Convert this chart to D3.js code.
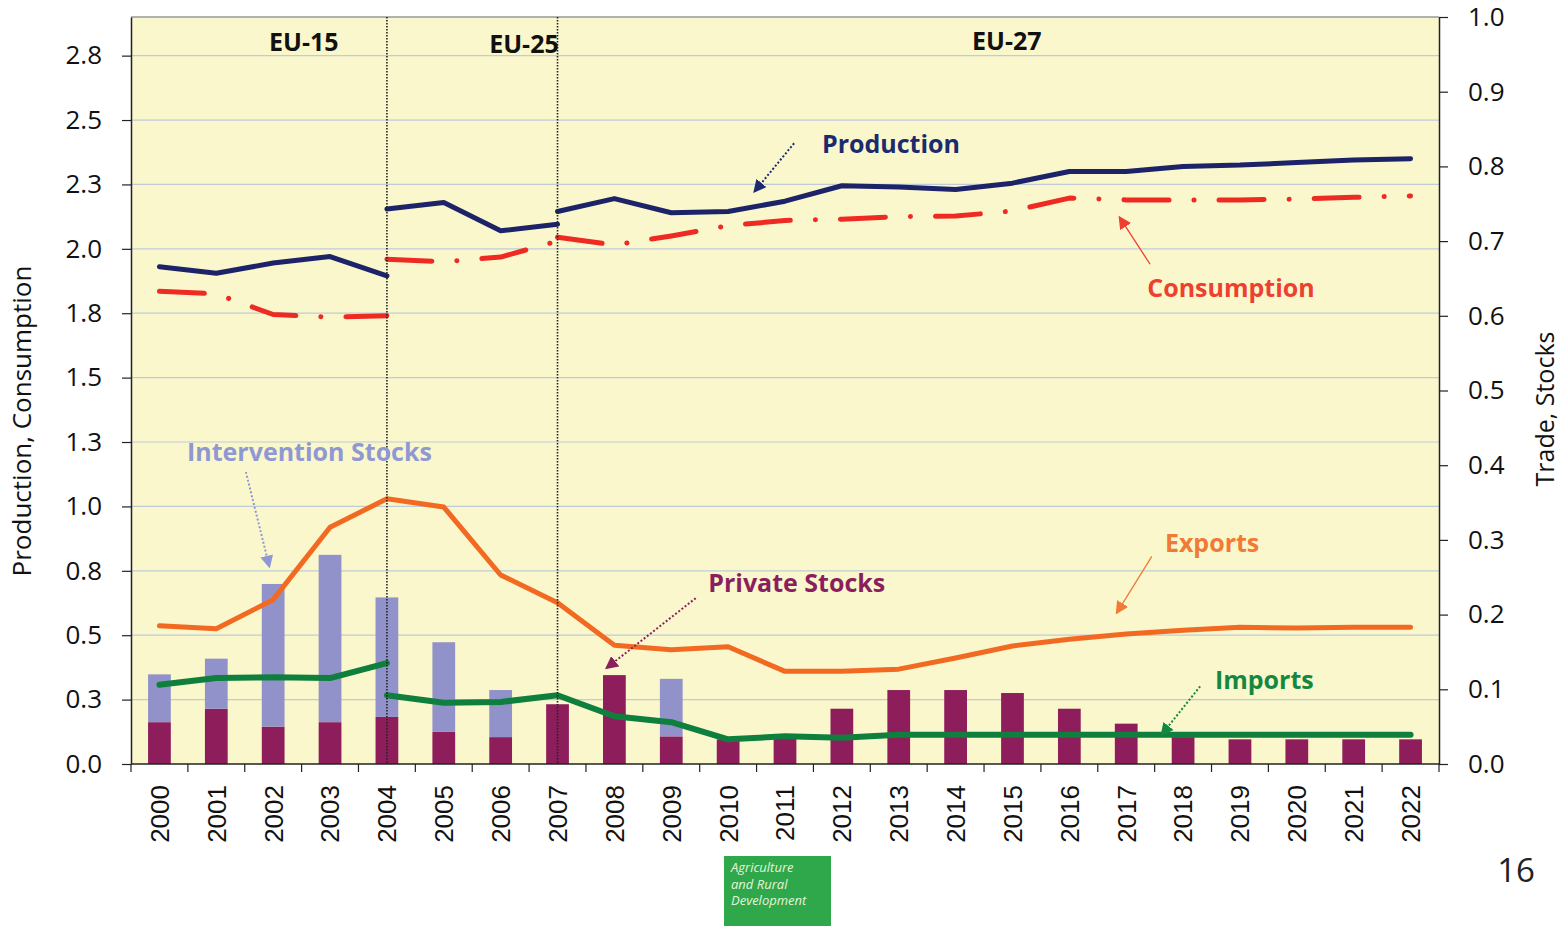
<!DOCTYPE html>
<meta charset="utf-8">
<style>
  body { margin: 0; background: #fff; }
  text { font-family: "Open Sans", "Noto Sans", sans-serif; }
  .years text { font-family: "Liberation Sans", Arial, sans-serif; font-size: 26px; fill: #111; }
  .lbl { font-weight: bold; font-size: 25px; }
</style>
<div id="chart"></div>
<script src="https://cdn.jsdelivr.net/npm/d3@7/dist/d3.min.js"></script>
<script>
// categories
var years = ["2000","2001","2002","2003","2004","2005","2006","2007","2008","2009","2010",
  "2011","2012","2013","2014","2015","2016","2017","2018","2019","2020","2021","2022"];

// left axis (Production, Consumption), segmented by EU composition
var prodEU15 = [1.93, 1.905, 1.945, 1.97, 1.895];
var prodEU25 = [2.155, 2.18, 2.07, 2.095];
var prodEU27 = [2.145, 2.195, 2.14, 2.145, 2.185, 2.245, 2.24, 2.23, 2.255, 2.30, 2.30, 2.32, 2.325, 2.335, 2.345, 2.35];
var consEU15 = [1.835, 1.825, 1.745, 1.735, 1.74];
var consEU25 = [1.96, 1.95, 1.968, 2.03];
var consEU27 = [2.045, 2.015, 2.05, 2.09, 2.11, 2.115, 2.125, 2.127, 2.147, 2.197, 2.19, 2.19, 2.19, 2.193, 2.20, 2.205];

// right axis (Trade, Stocks)
var exportsAll = [0.185, 0.181, 0.22, 0.317, 0.355, 0.344, 0.253, 0.216, 0.159, 0.153, 0.157, 0.124,
  0.124, 0.127, 0.142, 0.158, 0.167, 0.174, 0.179, 0.183, 0.182, 0.183, 0.183];
var importsEU15 = [0.106, 0.115, 0.116, 0.115, 0.135];
var importsEU25on = [0.092, 0.082, 0.083, 0.092, 0.064, 0.056, 0.033, 0.037, 0.035, 0.039,
  0.039, 0.039, 0.039, 0.039, 0.039, 0.039, 0.039, 0.039, 0.039];
var privateStocks = [0.056, 0.074, 0.050, 0.056, 0.063, 0.043, 0.036, 0.080, 0.119, 0.037, 0.033, 0.036,
  0.074, 0.099, 0.099, 0.095, 0.074, 0.054, 0.036, 0.033, 0.033, 0.033, 0.033];
var interventionStocks = [0.064, 0.067, 0.191, 0.224, 0.160, 0.120, 0.063, 0, 0, 0.077, 0, 0,
  0, 0, 0, 0, 0, 0, 0, 0, 0, 0, 0];

// ticks
var leftTicks = [0, 0.25, 0.5, 0.75, 1, 1.25, 1.5, 1.75, 2, 2.25, 2.5, 2.75];
var leftTickLabels = ["0.0","0.3","0.5","0.8","1.0","1.3","1.5","1.8","2.0","2.3","2.5","2.8"];
var rightTicks = [0, 0.1, 0.2, 0.3, 0.4, 0.5, 0.6, 0.7, 0.8, 0.9, 1.0];
var rightTickLabels = ["0.0","0.1","0.2","0.3","0.4","0.5","0.6","0.7","0.8","0.9","1.0"];

// annotations: position given as year index and right-axis value
var notes = [
  {text: "Production", color: "#1c2a6e", i: 11.65, v: 0.818, a: [11.16, 0.831, 10.47, 0.767], dash: "2,2"},
  {text: "Consumption", color: "#ee4030", i: 17.37, v: 0.625, a: [17.42, 0.669, 16.89, 0.731], dash: null},
  {text: "Intervention Stocks", color: "#9098d4", i: 0.485, v: 0.406, a: [1.52, 0.391, 1.93, 0.265], dash: "2,2"},
  {text: "Exports", color: "#f07a36", i: 17.68, v: 0.284, a: [17.45, 0.278, 16.84, 0.203], dash: null},
  {text: "Private Stocks", color: "#8b1f5e", i: 9.65, v: 0.230, a: [9.43, 0.222, 7.87, 0.129], dash: "2,2"},
  {text: "Imports", color: "#14883f", i: 18.56, v: 0.100, a: [18.30, 0.104, 17.63, 0.040], dash: "2,2"}
];
var eraLabels = [{text: "EU-15", i: 2.54, v: 0.954}, {text: "EU-25", i: 6.41, v: 0.952}, {text: "EU-27", i: 14.9, v: 0.956}];

var W = 1562, H = 926;
var pLeft = 131, pRight = 1439, pTop = 17, pBottom = 764;

var svg = d3.select("#chart").append("svg").attr("width", W).attr("height", H);

var x = d3.scaleBand().domain(years).range([pLeft, pRight]).padding(0);
var xi = d3.scaleLinear().domain([-0.5, years.length - 0.5]).range([pLeft, pRight]);
var yL = d3.scaleLinear().domain([0, 2.9]).range([pBottom, pTop]);
var yR = d3.scaleLinear().domain([0, 1]).range([pBottom, pTop]);
function cx(y) { return x(y) + x.bandwidth() / 2; }

// plot background
svg.append("rect").attr("x", pLeft).attr("y", pTop).attr("width", pRight - pLeft).attr("height", pBottom - pTop)
  .attr("fill", "#faf7cc");
svg.append("line").attr("x1", pLeft).attr("x2", pRight).attr("y1", pTop).attr("y2", pTop)
  .attr("stroke", "#999").attr("stroke-width", 1.5);

// gridlines
svg.append("g").selectAll("line").data(leftTicks.slice(1)).enter().append("line")
  .attr("x1", pLeft).attr("x2", pRight)
  .attr("y1", function (d) { return yL(d); }).attr("y2", function (d) { return yL(d); })
  .attr("stroke", "#bfccd6").attr("stroke-width", 1.2);

// stacked bars
var bw = x.bandwidth() * 0.4;
var bars = svg.append("g");
bars.selectAll("rect.priv").data(years).enter().append("rect")
  .attr("x", function (d) { return cx(d) - bw / 2; })
  .attr("width", bw)
  .attr("y", function (d, i) { return yR(privateStocks[i]); })
  .attr("height", function (d, i) { return yR(0) - yR(privateStocks[i]); })
  .attr("fill", "#8e1d5c");
bars.selectAll("rect.int").data(years).enter().append("rect")
  .attr("x", function (d) { return cx(d) - bw / 2; })
  .attr("width", bw)
  .attr("y", function (d, i) { return yR(privateStocks[i] + interventionStocks[i]); })
  .attr("height", function (d, i) { return yR(privateStocks[i]) - yR(privateStocks[i] + interventionStocks[i]); })
  .attr("fill", "#9292ca");

// lines
function seg(vals, startIdx, scale, color, width, dash) {
  var pts = vals.map(function (v, k) { return [cx(years[startIdx + k]), scale(v)]; });
  svg.append("path").attr("d", d3.line()(pts))
    .attr("fill", "none").attr("stroke", color).attr("stroke-width", width)
    .attr("stroke-linecap", "round").attr("stroke-linejoin", "round")
    .attr("stroke-dasharray", dash);
}
var cdash = "45,25,0.1,25";
seg(exportsAll, 0, yR, "#f26a21", 5, null);
seg(importsEU15, 0, yR, "#0e7f3c", 6, null);
seg(importsEU25on, 4, yR, "#0e7f3c", 6, null);
seg(consEU15, 0, yL, "#ee2a22", 5, cdash);
seg(consEU25, 4, yL, "#ee2a22", 5, cdash);
seg(consEU27, 7, yL, "#ee2a22", 5, cdash);
seg(prodEU15, 0, yL, "#1c2368", 5, null);
seg(prodEU25, 4, yL, "#1c2368", 5, null);
seg(prodEU27, 7, yL, "#1c2368", 5, null);

// enlargement boundaries
["2004", "2007"].forEach(function (y) {
  svg.append("line").attr("x1", cx(y)).attr("x2", cx(y)).attr("y1", pTop).attr("y2", pBottom)
    .attr("stroke", "#222").attr("stroke-width", 1.6).attr("stroke-dasharray", "1.5,1.5");
});

// axes
var gl = svg.append("g").attr("transform", "translate(" + pLeft + ",0)")
  .call(d3.axisLeft(yL).tickValues(leftTicks).tickFormat(function (d, i) { return leftTickLabels[i]; })
    .tickSize(9).tickSizeOuter(0).tickPadding(20));
var gr = svg.append("g").attr("transform", "translate(" + pRight + ",0)")
  .call(d3.axisRight(yR).tickValues(rightTicks).tickFormat(function (d, i) { return rightTickLabels[i]; })
    .tickSize(9).tickSizeOuter(0).tickPadding(20));
[gl, gr].forEach(function (g) {
  g.select(".domain").attr("stroke", "#222").attr("stroke-width", 1.5);
  g.selectAll(".tick line").attr("stroke", "#222").attr("stroke-width", 1.2);
  g.selectAll("text").attr("font-family", "'Open Sans', sans-serif").attr("font-size", 26).attr("fill", "#111");
});

svg.append("line").attr("x1", pLeft).attr("x2", pRight).attr("y1", pBottom).attr("y2", pBottom)
  .attr("stroke", "#222").attr("stroke-width", 1.5);
var bounds = years.map(function (y) { return x(y); }).concat([pRight]);
svg.append("g").selectAll("line").data(bounds).enter().append("line")
  .attr("x1", function (d) { return d; }).attr("x2", function (d) { return d; })
  .attr("y1", pBottom).attr("y2", pBottom + 8).attr("stroke", "#222").attr("stroke-width", 1.2);
svg.append("g").attr("class", "years").selectAll("text").data(years).enter().append("text")
  .attr("transform", function (d) { return "translate(" + cx(d) + "," + (pBottom + 21) + ") rotate(-90)"; })
  .attr("text-anchor", "end").attr("dy", "0.36em")
  .text(function (d) { return d; });

// axis titles
svg.append("text").attr("transform", "translate(31,421) rotate(-90)").attr("text-anchor", "middle")
  .attr("font-size", 26).attr("fill", "#111").text("Production, Consumption");
svg.append("text").attr("transform", "translate(1554,409) rotate(-90)").attr("text-anchor", "middle")
  .attr("font-size", 25).attr("fill", "#111").text("Trade, Stocks");

// era labels
svg.append("g").selectAll("text").data(eraLabels).enter().append("text")
  .attr("class", "lbl").attr("text-anchor", "middle").attr("font-size", 26).attr("fill", "#111")
  .attr("x", function (d) { return xi(d.i); }).attr("y", function (d) { return yR(d.v); })
  .text(function (d) { return d.text; });

// annotations with arrows
var defs = svg.append("defs");
notes.forEach(function (n, k) {
  defs.append("marker").attr("id", "ah" + k).attr("viewBox", "0 0 10 10").attr("refX", 8).attr("refY", 5)
    .attr("markerWidth", 13).attr("markerHeight", 13).attr("markerUnits", "userSpaceOnUse").attr("orient", "auto")
    .append("path").attr("d", "M0,0L10,5L0,10z").attr("fill", n.color);
  svg.append("line")
    .attr("x1", xi(n.a[0])).attr("y1", yR(n.a[1])).attr("x2", xi(n.a[2])).attr("y2", yR(n.a[3]))
    .attr("stroke", n.color).attr("stroke-width", n.dash ? 2 : 1.3)
    .attr("stroke-dasharray", n.dash).attr("marker-end", "url(#ah" + k + ")");
  svg.append("text").attr("class", "lbl").attr("x", xi(n.i)).attr("y", yR(n.v))
    .attr("fill", n.color).text(n.text);
});

// page furniture
svg.append("text").attr("x", 1516).attr("y", 882).attr("text-anchor", "middle")
  .attr("font-family", "'Liberation Sans Narrow', 'Liberation Sans', sans-serif").attr("font-size", 33)
  .attr("fill", "#222").text("16");
svg.append("rect").attr("x", 724).attr("y", 856).attr("width", 107).attr("height", 70).attr("fill", "#2ea84a");
["Agriculture", "and Rural", "Development"].forEach(function (t, k) {
  svg.append("text").attr("x", 731).attr("y", 872 + k * 16.5).attr("font-size", 13)
    .attr("font-style", "italic").attr("fill", "#e6f4dc").text(t);
});
</script>
